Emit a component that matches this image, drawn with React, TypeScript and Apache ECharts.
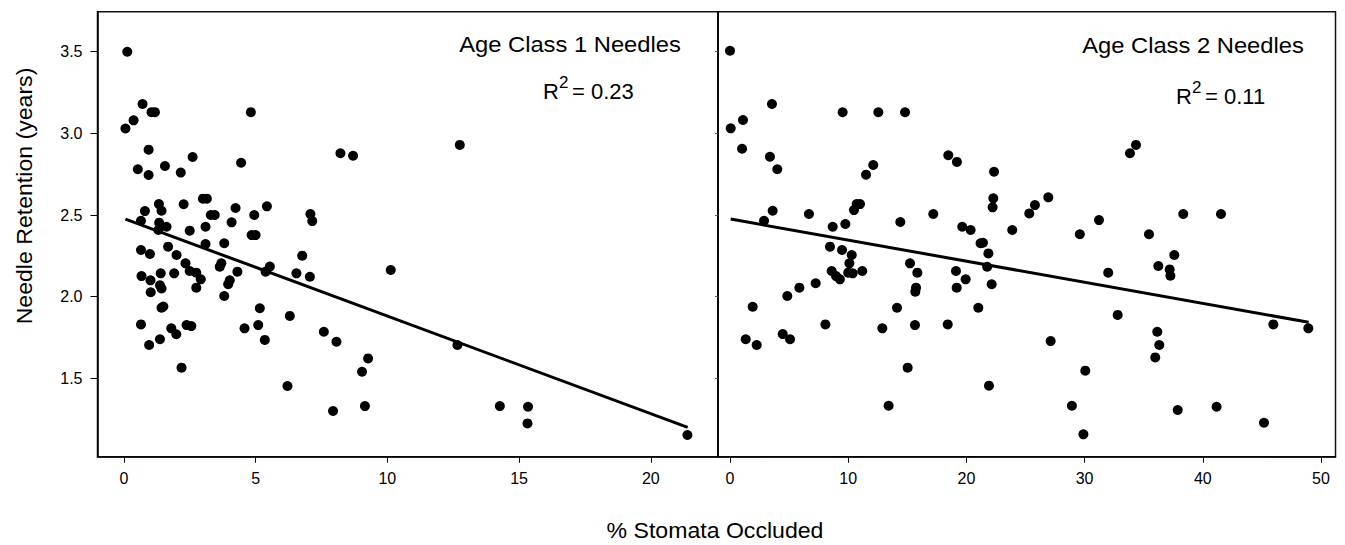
import React, { useEffect, useRef } from "react";
import * as echarts from "echarts";

// ---------- Data ----------
// Age class 1 needles: % stomata occluded vs needle retention (years)
const age1X = [
  0.13, 0.71, 1.05, 1.18, 0.37, 0.06, 4.82, 0.94, 0.53, 0.94, 1.56, 2.16, 2.61, 4.45, 8.22, 8.7,
  3.0, 3.15, 1.33, 1.43, 0.8, 2.27, 3.3, 3.45, 4.24, 4.95, 5.43, 7.08, 7.15, 0.65, 1.34, 1.62,
  1.31, 2.5, 3.1, 4.09, 4.85, 5.0, 0.65, 0.99, 1.68, 2.0, 3.1, 3.81, 2.34, 2.5, 2.75, 2.92,
  2.75, 1.91, 1.4, 0.67, 1.01, 1.37, 1.43, 1.02, 3.64, 3.7, 4.31, 4.02, 3.96, 3.81, 5.38, 5.54,
  6.55, 6.77, 7.06, 10.13, 1.43, 1.5, 0.65, 0.96, 1.37, 1.8, 1.99, 2.38, 2.56, 2.19, 5.16, 5.1,
  4.58, 5.35, 6.3, 6.21, 7.59, 8.07, 7.94, 9.27, 9.04, 9.15, 12.75, 12.66, 14.27, 15.34, 15.32, 21.39,
];
const age1Y = [
  3.5, 3.18, 3.13, 3.13, 3.08, 3.03, 3.13, 2.9, 2.78, 2.745, 2.8, 2.76, 2.855, 2.82, 2.878, 2.863,
  2.6, 2.6, 2.567, 2.526, 2.524, 2.566, 2.5, 2.5, 2.543, 2.5, 2.553, 2.506, 2.463, 2.465, 2.453, 2.428,
  2.408, 2.404, 2.428, 2.455, 2.377, 2.377, 2.286, 2.261, 2.306, 2.255, 2.322, 2.327, 2.204, 2.157, 2.147, 2.106,
  2.055, 2.143, 2.143, 2.126, 2.1, 2.07, 2.05, 2.027, 2.183, 2.204, 2.153, 2.1, 2.076, 2.004, 2.153, 2.184,
  2.143, 2.251, 2.122, 2.163, 1.932, 1.94, 1.83, 1.704, 1.739, 1.806, 1.77, 1.826, 1.82, 1.565, 1.929, 1.826,
  1.806, 1.735, 1.882, 1.453, 1.785, 1.724, 1.3, 1.622, 1.54, 1.33, 2.929, 1.704, 1.33, 1.326, 1.224, 1.153,
];

// Age class 2 needles
const age2X = [
  0, 0.06, 1.1, 3.55, 1.02, 9.53, 12.55, 14.81, 3.38, 4.0, 12.12, 11.51, 18.47, 19.2, 22.34, 3.61,
  2.88, 6.68, 10.72, 11.0, 10.49, 8.69, 9.76, 14.41, 17.2, 22.28, 22.22, 19.65, 20.36, 23.88, 25.32, 25.8,
  26.93, 21.2, 21.4, 8.46, 9.48, 10.3, 10.1, 8.6, 8.97, 9.3, 10.0, 10.38, 11.19, 7.25, 5.87, 4.85,
  1.92, 1.33, 2.26, 4.46, 5.08, 8.07, 15.23, 15.85, 15.74, 15.68, 14.13, 12.89, 15.65, 18.42, 15.03, 13.42,
  19.12, 19.94, 19.18, 21.01, 21.86, 21.76, 22.14, 21.91, 33.84, 34.35, 31.22, 29.6, 35.45, 38.35, 41.54, 32.0,
  36.24, 37.59, 37.2, 37.26, 32.8, 27.13, 36.15, 36.32, 35.98, 30.06, 28.93, 29.9, 37.88, 41.17, 45.18, 45.97,
  48.93,
];
const age2Y = [
  3.506, 3.031, 3.082, 3.18, 2.906, 3.129, 3.129, 3.129, 2.857, 2.78, 2.806, 2.747, 2.866, 2.825, 2.765, 2.526,
  2.465, 2.506, 2.567, 2.567, 2.53, 2.428, 2.445, 2.457, 2.506, 2.602, 2.547, 2.428, 2.408, 2.408, 2.51, 2.561,
  2.608, 2.327, 2.33, 2.306, 2.286, 2.255, 2.204, 2.157, 2.126, 2.106, 2.147, 2.143, 2.157, 2.082, 2.055, 2.004,
  1.938, 1.739, 1.704, 1.771, 1.739, 1.83, 2.204, 2.147, 2.055, 2.03, 1.932, 1.806, 1.826, 1.83, 1.565, 1.332,
  2.157, 2.106, 2.055, 1.932, 2.265, 2.183, 2.076, 1.455, 2.878, 2.929, 2.469, 2.382, 2.382, 2.506, 2.506, 2.147,
  2.188, 2.255, 2.167, 2.128, 1.888, 1.728, 1.785, 1.704, 1.628, 1.547, 1.332, 1.157, 1.306, 1.326, 1.228, 1.83,
  1.806,
];

// Regression line end points
const fit1X = [0.06, 21.4];
const fit1Y = [2.475, 1.2];
const fit2X = [0.06, 48.96];
const fit2Y = [2.475, 1.843];

// Tick values
const yTicks = [1.5, 2.0, 2.5, 3.0, 3.5];
const xTicks1 = [0, 5, 10, 15, 20];
const xTicks2 = [0, 10, 20, 30, 40, 50];

// Texts
const panel1Title = "Age Class 1 Needles";
const panel2Title = "Age Class 2 Needles";
const r2Panel1 = "= 0.23";
const r2Panel2 = "= 0.11";
const xTitle = "% Stomata Occluded";
const yTitle = "Needle Retention (years)";

const FONT = '"Liberation Sans", Arial, Helvetica, sans-serif';

function zip(xs: number[], ys: number[]) {
  return xs.map((x, i) => [x, ys[i]]);
}

function txt(
  text: string,
  x: number,
  y: number,
  fontSize: number,
  align: string,
  extra: any = {}
) {
  return {
    type: "text",
    x,
    y,
    silent: true,
    ...extra,
    style: {
      text,
      fontSize,
      fontFamily: FONT,
      fill: "#000",
      align,
      verticalAlign: "middle",
      textAlign: align,
      textVerticalAlign: "middle",
    },
  };
}

export default function App() {
  const ref = useRef<HTMLDivElement>(null);

  useEffect(() => {
    if (!ref.current) return;
    const chart = echarts.init(ref.current, null, { renderer: "svg" });

    const axisLine = { show: true, onZero: false, lineStyle: { color: "#000", width: 1.5 } };
    const labelStyle = { color: "#000", fontSize: 16, fontFamily: FONT };

    const option: any = {
      animation: false,
      backgroundColor: "#fff",
      grid: [
        { left: 97.5, top: 11.7, width: 620.5, height: 445, show: true, borderColor: "#111", borderWidth: 1.5, backgroundColor: "transparent" },
        { left: 718, top: 11.7, width: 617.5, height: 445, show: true, borderColor: "#111", borderWidth: 1.5, backgroundColor: "transparent" },
      ],
      xAxis: [
        {
          type: "value",
          gridIndex: 0,
          min: -1.0,
          max: 22.55,
          axisLine,
          axisTick: { show: true, length: 6, customValues: xTicks1, lineStyle: { color: "#000", width: 1 } },
          axisLabel: { ...labelStyle, customValues: xTicks1, margin: 14 },
          splitLine: { show: false },
        },
        {
          type: "value",
          gridIndex: 1,
          min: -1.015,
          max: 51.23,
          axisLine,
          axisTick: { show: true, length: 6, customValues: xTicks2, lineStyle: { color: "#000", width: 1 } },
          axisLabel: { ...labelStyle, customValues: xTicks2, margin: 14 },
          splitLine: { show: false },
        },
      ],
      yAxis: [
        {
          type: "value",
          gridIndex: 0,
          min: 1.02,
          max: 3.745,
          axisLine,
          axisTick: { show: true, length: 7, customValues: yTicks, lineStyle: { color: "#000", width: 1 } },
          axisLabel: {
            ...labelStyle,
            customValues: yTicks,
            margin: 15,
            formatter: (v: number) => v.toFixed(1),
          },
          splitLine: { show: false },
        },
        {
          type: "value",
          gridIndex: 1,
          min: 1.02,
          max: 3.745,
          axisLine,
          axisTick: { show: true, length: 3, customValues: yTicks, lineStyle: { color: "#555", width: 1 } },
          axisLabel: { show: false },
          splitLine: { show: false },
        },
      ],
      series: [
        {
          type: "scatter",
          xAxisIndex: 0,
          yAxisIndex: 0,
          data: zip(age1X, age1Y),
          symbol: "circle",
          symbolSize: 10,
          itemStyle: { color: "#000", opacity: 1 },
        },
        {
          type: "line",
          xAxisIndex: 0,
          yAxisIndex: 0,
          data: zip(fit1X, fit1Y),
          showSymbol: false,
          symbol: "none",
          lineStyle: { color: "#000", width: 3 },
        },
        {
          type: "scatter",
          xAxisIndex: 1,
          yAxisIndex: 1,
          data: zip(age2X, age2Y),
          symbol: "circle",
          symbolSize: 10,
          itemStyle: { color: "#000", opacity: 1 },
        },
        {
          type: "line",
          xAxisIndex: 1,
          yAxisIndex: 1,
          data: zip(fit2X, fit2Y),
          showSymbol: false,
          symbol: "none",
          lineStyle: { color: "#000", width: 3 },
        },
      ],
      graphic: [
        txt(panel1Title, 570, 44.4, 22, "center", { scaleX: 1.08 }),
        txt("R", 543, 91.4, 22, "left"),
        txt("2", 559, 82.5, 17, "left"),
        txt(r2Panel1, 572, 91.4, 22, "left"),
        txt(panel2Title, 1193, 45.4, 22, "center", { scaleX: 1.08 }),
        txt("R", 1176, 96.4, 22, "left"),
        txt("2", 1192, 87.5, 17, "left"),
        txt(r2Panel2, 1205, 96.4, 22, "left"),
        txt(xTitle, 715, 531, 22, "center", { scaleX: 1.05 }),
        txt(yTitle, 25, 196, 22, "center", { rotation: Math.PI / 2, scaleX: 1.05 }),
      ],
    };

    chart.setOption(option);
    return () => chart.dispose();
  }, []);

  return (
    <div
      ref={ref}
      style={{ position: "absolute", left: 0, top: 0, width: 1345, height: 545, background: "#fff" }}
    />
  );
}
